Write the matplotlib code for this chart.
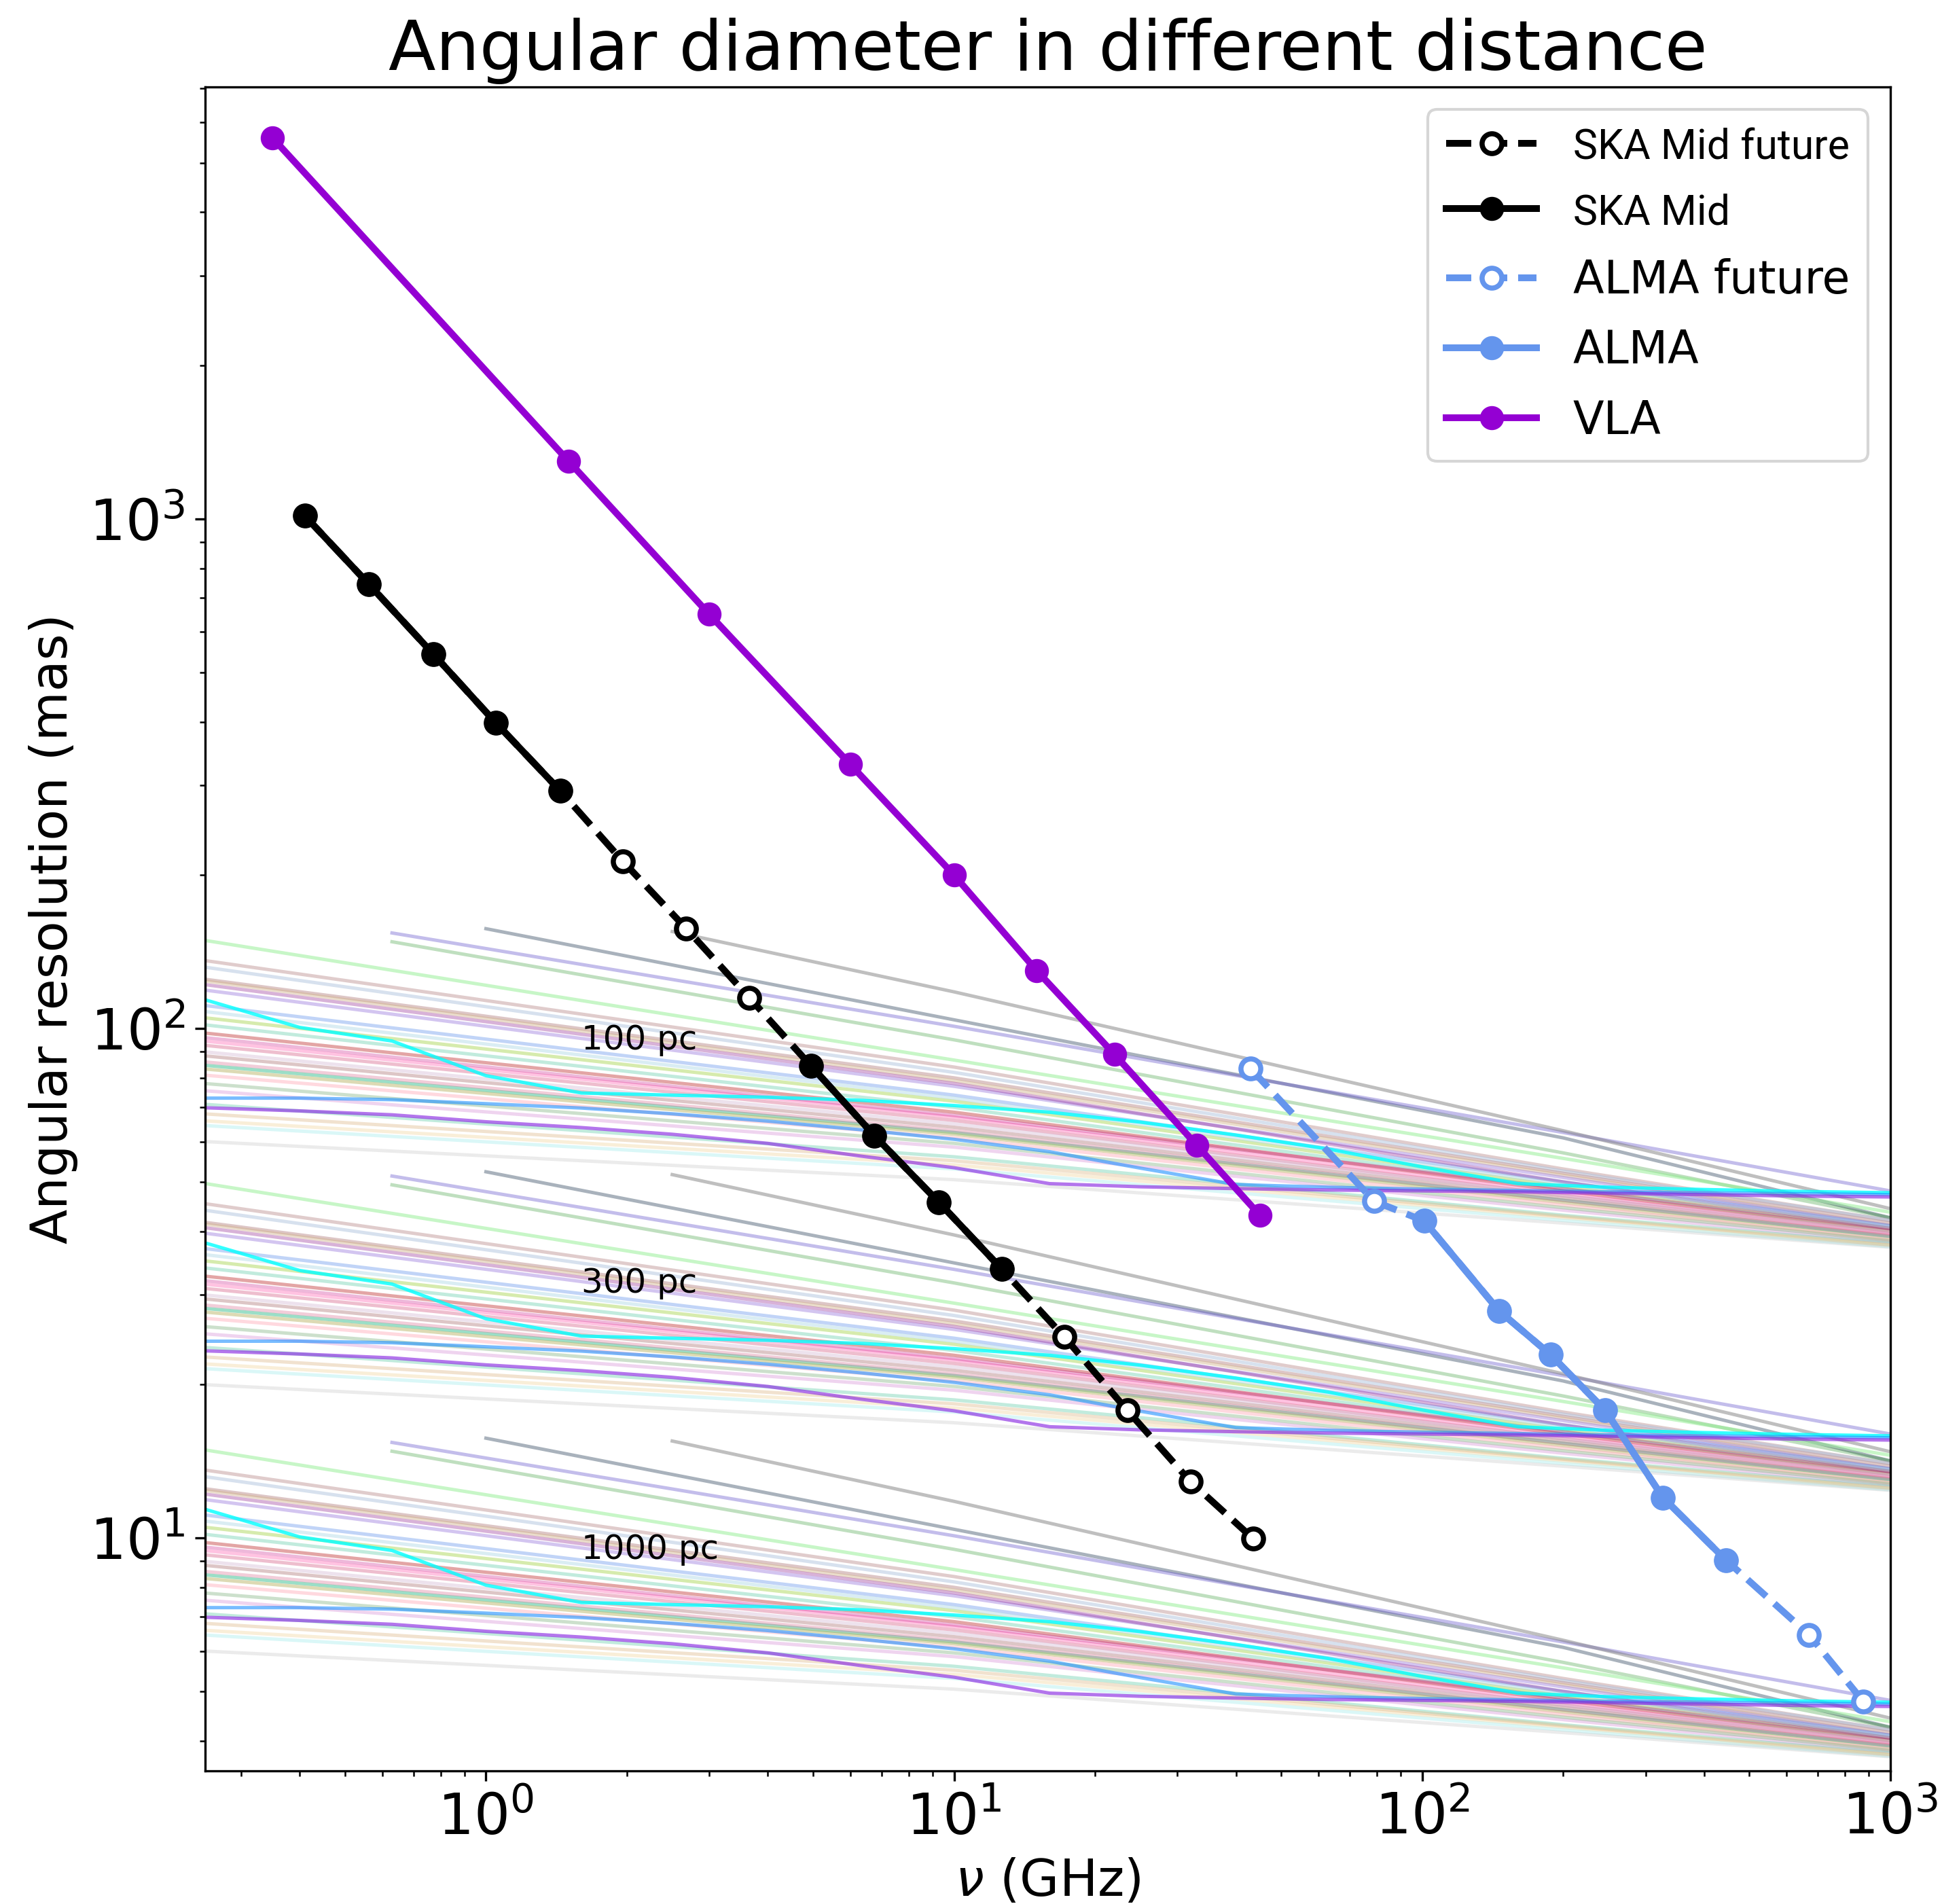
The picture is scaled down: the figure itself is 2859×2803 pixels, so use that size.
import matplotlib
matplotlib.use("Agg")
import matplotlib.pyplot as plt

# ---------------- instrument resolution data ----------------
vla_freq = [0.35, 1.5, 3, 6, 10, 15, 22, 33, 45]
vla_res = [5600, 1300, 650, 330, 200, 130, 89, 59, 43]

ska_freq = [0.41, 0.562, 0.772, 1.05, 1.44, 1.96, 2.68, 3.65, 4.95, 6.76,
            9.28, 12.65, 17.2, 23.45, 32.0, 43.6]
ska_res = [1015, 745, 543, 398, 293, 213, 157, 115, 84.4, 61.6,
           45.6, 33.7, 24.8, 17.8, 12.9, 9.96]
ska_now = [(0, 5), (8, 12)]          # index slices of existing bands

alma_freq = [43, 79, 101, 146, 188, 246, 327, 446, 670, 875]
alma_res = [83.4, 45.8, 41.9, 27.9, 22.9, 17.8, 12.0, 9.04, 6.46, 4.78]
alma_now = [(2, 8)]

# ---------------- stellar angular diameters (at 100 pc) ----------------
distances = [100, 300, 1000]
dist_labels = ["100 pc", "300 pc", "1000 pc"]
label_x = 1.6
label_y = [91, 30.3, 9.1]

grid = [0.25, 0.4, 0.63, 1.0, 1.6, 2.5, 4.0, 6.3, 10, 16, 25, 40, 63,
        100, 160, 250, 400, 630, 1000]
cyan_star = [114, 100.5, 94.5, 80.8, 74.7, 74.0, 73.3, 72.3, 70.6, 68.5,
             65.5, 61.8, 58.0, 53.5, 49.6, 48.8, 48.3, 47.9, 47.6]
blue_star = [73, 73, 72.5, 71.2, 69.8, 68.0, 65.8, 63.3, 60.6, 57.3,
             53.2, 49.4, 48.8, 48.4, 48.1, 47.8, 47.6, 47.4, 47.2]
purple_star = [69.9, 68.9, 67.7, 65.6, 63.9, 62.0, 59.5, 56.2, 53.3, 49.6,
               48.9, 48.5, 48.2, 48.0, 47.8, 47.5, 47.2, 46.9, 46.7]

pastel_colors = ["slategray", "slateblue", "green", "gray",
                 "lightgreen", "rosybrown", "lightsteelblue", "rosybrown",
                 "tan", "mediumpurple", "cornflowerblue", "yellowgreen",
                 "mediumaquamarine", "indianred", "hotpink", "palevioletred",
                 "rosybrown", "mediumaquamarine", "darkkhaki", "pink",
                 "plum", "mediumaquamarine", "wheat", "paleturquoise",
                 "silver", "thistle", "palevioletred", "darkseagreen",
                 "mediumvioletred", "purple", "burlywood", "lightblue"]
pastel_alpha = [0.6, 0.4, 0.25, 0.5,
                0.5, 0.45, 0.5, 0.5,
                0.45, 0.4, 0.4, 0.4,
                0.4, 0.55, 0.4, 0.45,
                0.5, 0.65, 0.5, 0.6,
                0.45, 0.4, 0.5, 0.45,
                0.3, 0.45, 0.35, 0.45,
                0.3, 0.3, 0.4, 0.45]
pastel_freq = [[1.0, 10, 200, 1000], [0.63, 10, 200, 1000],
               [0.63, 10, 200, 1000], [2.5, 10, 200, 1000]] + \
              [[0.25, 10, 200, 1000]] * 28
pastel_vals = [
    [157, 104, 61, 42.5], [154, 101, 62.5, 48], [148, 95, 57, 42.5],
    [155, 118, 63, 44.3],
    [149, 86.7, 55.6, 43.6], [136, 84, 53, 42], [132, 82, 52.5, 42],
    [125, 80, 52, 41.5], [124, 79, 51.5, 41], [119, 77, 51, 41],
    [111, 74, 50, 41], [105, 72, 49, 40.5], [101.7, 70, 48.5, 40],
    [98, 68.5, 48, 40], [94.5, 67, 47.5, 39.5], [92.7, 66, 47, 39.5],
    [88.4, 64, 46.5, 39], [84.7, 62.5, 46, 39], [83.3, 62, 45.5, 38.5],
    [81, 61, 45, 38.5], [75.5, 58.5, 44, 38], [71, 56, 43, 37.8],
    [65.9, 54, 42.5, 37.5], [64.5, 53, 42, 37.3], [60, 50.5, 41.5, 37.2],
    [90, 65, 47, 39.8], [86, 63, 46, 39.2], [78, 59.5, 44.5, 38.3],
    [96, 67.5, 48.5, 40.5], [122, 78, 50, 40.5], [68, 55, 42.8, 37.6],
    [108, 73, 49.5, 40.8]]

# ---------------- figure ----------------
fig = plt.figure(figsize=(2859 / 300, 2803 / 300), dpi=300)
ax = fig.add_axes([0.1056, 0.0699, 0.8678, 0.8844])
ax.set_xscale("log")
ax.set_yscale("log")

for d in distances:
    f = 100.0 / d
    for c, a, xs, ys in zip(pastel_colors, pastel_alpha, pastel_freq, pastel_vals):
        ax.plot(xs, [v * f for v in ys], color=c, alpha=a, lw=1.2, zorder=1)
    ax.plot(grid, [v * f for v in cyan_star], color="cyan", alpha=0.8, lw=1.2, zorder=2)
    ax.plot(grid, [v * f for v in blue_star], color="dodgerblue", alpha=0.6, lw=1.2, zorder=2)
    ax.plot(grid, [v * f for v in purple_star], color="blueviolet", alpha=0.65, lw=1.2, zorder=2)

for lab, yv in zip(dist_labels, label_y):
    ax.text(label_x, yv, lab, fontsize=12, zorder=3)

lw = 2.4
ms = 7.5
# SKA
ax.plot(ska_freq, ska_res, ls="--", color="black", lw=lw, marker="o", ms=ms - 0.5,
        mfc="white", mec="black", mew=1.8, zorder=5, label="SKA Mid future")
for i, (a, b) in enumerate(ska_now):
    ax.plot(ska_freq[a:b], ska_res[a:b], ls="-", color="black", lw=lw, marker="o", ms=ms,
            zorder=6, label="SKA Mid" if i == 0 else None)
# ALMA
ax.plot(alma_freq, alma_res, ls="--", color="cornflowerblue", lw=lw, marker="o", ms=ms - 0.5,
        mfc="white", mec="cornflowerblue", mew=1.8, zorder=5, label="ALMA future")
for a, b in alma_now:
    ax.plot(alma_freq[a:b], alma_res[a:b], ls="-", color="cornflowerblue", lw=lw, marker="o",
            ms=ms, zorder=6, label="ALMA")
# VLA
ax.plot(vla_freq, vla_res, ls="-", color="darkviolet", lw=lw, marker="o", ms=ms,
        zorder=6, label="VLA")

ax.set_xlim(10 ** -0.6, 1000)
ax.set_ylim(3.49, 7045)
ax.set_title("Angular diameter in different distance", fontsize=24.4)
ax.set_xlabel(r"$\nu$ (GHz)", fontsize=18)
ax.set_ylabel("Angular resolution (mas)", fontsize=18)
ax.tick_params(axis="both", which="major", labelsize=20)

leg = ax.legend(loc="upper right", fontsize=16, labelspacing=0.56)
for t in leg.get_texts()[:2]:
    t.set_fontfamily("Roboto")
    t.set_fontsize(14.6)

fig.savefig("out.png", dpi=300)
